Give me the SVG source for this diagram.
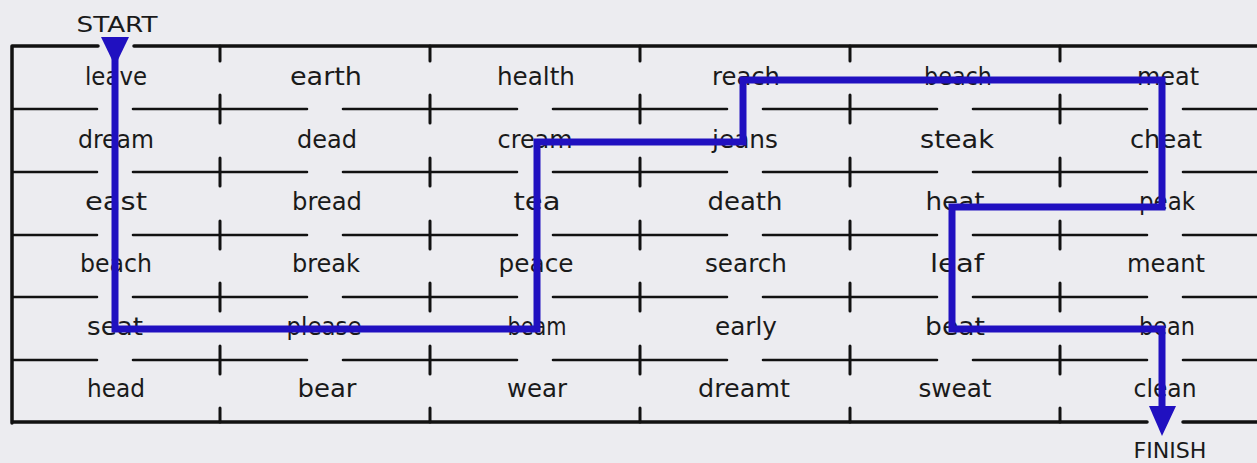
<svg xmlns="http://www.w3.org/2000/svg" width="1257" height="463" viewBox="0 0 1257 463">
<defs>
<style>
.bg{fill:#ececf0}
.frame{fill:none;stroke:#111;stroke-width:3.5;stroke-linecap:round}
.grid{fill:none;stroke:#111;stroke-width:2.6;stroke-linecap:round}
.tick{fill:none;stroke:#111;stroke-width:3;stroke-linecap:round}
.w{font-family:"DejaVu Sans",sans-serif;font-size:24px;fill:#1a1a1a;text-anchor:middle}
.cap{font-family:"DejaVu Sans",sans-serif;font-size:21px;fill:#1a1a1a;text-anchor:middle}
.path{fill:none;stroke:#2010c0;stroke-width:7;stroke-linejoin:miter}
.head{fill:#2010c0}
</style>
</defs>
<rect class="bg" x="0" y="0" width="1257" height="463"/>

<g id="grid">
<path class="frame" d="M12,46 V423 M12,46 H98 M134,46 H1257 M12,422 H1147 M1183,422 H1257"/>
<path class="grid" d="M13,109 H97 M133,109 H307 M343,109 H517 M553,109 H727 M763,109 H937 M973,109 H1147 M1183,109 H1257
M13,172 H97 M133,172 H307 M343,172 H517 M553,172 H727 M763,172 H937 M973,172 H1147 M1183,172 H1257
M13,235 H97 M133,235 H307 M343,235 H517 M553,235 H727 M763,235 H937 M973,235 H1147 M1183,235 H1257
M13,297 H97 M133,297 H307 M343,297 H517 M553,297 H727 M763,297 H937 M973,297 H1147 M1183,297 H1257
M13,360 H97 M133,360 H307 M343,360 H517 M553,360 H727 M763,360 H937 M973,360 H1147 M1183,360 H1257"/>
<path class="tick" d="M220,46 V61 M430,46 V61 M640,46 V61 M850,46 V61 M1060,46 V61
M220,95 V123 M430,95 V123 M640,95 V123 M850,95 V123 M1060,95 V123
M220,158 V186 M430,158 V186 M640,158 V186 M850,158 V186 M1060,158 V186
M220,221 V249 M430,221 V249 M640,221 V249 M850,221 V249 M1060,221 V249
M220,283 V311 M430,283 V311 M640,283 V311 M850,283 V311 M1060,283 V311
M220,346 V374 M430,346 V374 M640,346 V374 M850,346 V374 M1060,346 V374
M220,408 V422 M430,408 V422 M640,408 V422 M850,408 V422 M1060,408 V422"/>
</g>

<g id="start"><text class="cap" x="117" y="32" textLength="81" lengthAdjust="spacingAndGlyphs">START</text></g>
<g id="finish"><text class="cap" x="1170" y="458" textLength="73" lengthAdjust="spacingAndGlyphs">FINISH</text></g>

<g id="row1">
<g id="c-leave"><text class="w" x="116" y="85" textLength="62" lengthAdjust="spacingAndGlyphs">leave</text></g>
<g id="c-earth"><text class="w" x="326" y="85" textLength="72" lengthAdjust="spacingAndGlyphs">earth</text></g>
<g id="c-health"><text class="w" x="536" y="85" textLength="78" lengthAdjust="spacingAndGlyphs">health</text></g>
<g id="c-reach"><text class="w" x="746" y="85" textLength="68" lengthAdjust="spacingAndGlyphs">reach</text></g>
<g id="c-beach1"><text class="w" x="958" y="85" textLength="68" lengthAdjust="spacingAndGlyphs">beach</text></g>
<g id="c-meat"><text class="w" x="1168" y="85" textLength="62" lengthAdjust="spacingAndGlyphs">meat</text></g>
</g>
<g id="row2">
<g id="c-dream"><text class="w" x="116" y="148" textLength="76" lengthAdjust="spacingAndGlyphs">dream</text></g>
<g id="c-dead"><text class="w" x="327" y="148" textLength="60" lengthAdjust="spacingAndGlyphs">dead</text></g>
<g id="c-cream"><text class="w" x="535" y="148" textLength="75" lengthAdjust="spacingAndGlyphs">cream</text></g>
<g id="c-jeans"><text class="w" x="745" y="148" textLength="66" lengthAdjust="spacingAndGlyphs">jeans</text></g>
<g id="c-steak"><text class="w" x="957" y="148" textLength="74" lengthAdjust="spacingAndGlyphs">steak</text></g>
<g id="c-cheat"><text class="w" x="1166" y="148" textLength="72" lengthAdjust="spacingAndGlyphs">cheat</text></g>
</g>
<g id="row3">
<g id="c-east"><text class="w" x="116" y="210" textLength="62" lengthAdjust="spacingAndGlyphs">east</text></g>
<g id="c-bread"><text class="w" x="327" y="210" textLength="70" lengthAdjust="spacingAndGlyphs">bread</text></g>
<g id="c-tea"><text class="w" x="537" y="210" textLength="47" lengthAdjust="spacingAndGlyphs">tea</text></g>
<g id="c-death"><text class="w" x="745" y="210" textLength="75" lengthAdjust="spacingAndGlyphs">death</text></g>
<g id="c-heat"><text class="w" x="955" y="210" textLength="59" lengthAdjust="spacingAndGlyphs">heat</text></g>
<g id="c-peak"><text class="w" x="1167" y="210" textLength="56" lengthAdjust="spacingAndGlyphs">peak</text></g>
</g>
<g id="row4">
<g id="c-beach2"><text class="w" x="116" y="272" textLength="72" lengthAdjust="spacingAndGlyphs">beach</text></g>
<g id="c-break"><text class="w" x="326" y="272" textLength="68" lengthAdjust="spacingAndGlyphs">break</text></g>
<g id="c-peace"><text class="w" x="536" y="272" textLength="75" lengthAdjust="spacingAndGlyphs">peace</text></g>
<g id="c-search"><text class="w" x="746" y="272" textLength="82" lengthAdjust="spacingAndGlyphs">search</text></g>
<g id="c-leaf"><text class="w" x="957" y="272" textLength="54" lengthAdjust="spacingAndGlyphs">leaf</text></g>
<g id="c-meant"><text class="w" x="1166" y="272" textLength="78" lengthAdjust="spacingAndGlyphs">meant</text></g>
</g>
<g id="row5">
<g id="c-seat"><text class="w" x="115" y="335" textLength="56" lengthAdjust="spacingAndGlyphs">seat</text></g>
<g id="c-please"><text class="w" x="324" y="335" textLength="75" lengthAdjust="spacingAndGlyphs">please</text></g>
<g id="c-beam"><text class="w" x="537" y="335" textLength="59" lengthAdjust="spacingAndGlyphs">beam</text></g>
<g id="c-early"><text class="w" x="746" y="335" textLength="62" lengthAdjust="spacingAndGlyphs">early</text></g>
<g id="c-beat"><text class="w" x="955" y="335" textLength="60" lengthAdjust="spacingAndGlyphs">beat</text></g>
<g id="c-bean"><text class="w" x="1167" y="335" textLength="56" lengthAdjust="spacingAndGlyphs">bean</text></g>
</g>
<g id="row6">
<g id="c-head"><text class="w" x="116" y="397" textLength="58" lengthAdjust="spacingAndGlyphs">head</text></g>
<g id="c-bear"><text class="w" x="327" y="397" textLength="59" lengthAdjust="spacingAndGlyphs">bear</text></g>
<g id="c-wear"><text class="w" x="537" y="397" textLength="60" lengthAdjust="spacingAndGlyphs">wear</text></g>
<g id="c-dreamt"><text class="w" x="744" y="397" textLength="92" lengthAdjust="spacingAndGlyphs">dreamt</text></g>
<g id="c-sweat"><text class="w" x="955" y="397" textLength="73" lengthAdjust="spacingAndGlyphs">sweat</text></g>
<g id="c-clean"><text class="w" x="1165" y="397" textLength="63" lengthAdjust="spacingAndGlyphs">clean</text></g>
</g>

<g id="connectors">
<path class="path" d="M115,58 V329 H537 V142 H743 V80 H1162 V207 H952 V329 H1162 V410"/>
<polygon class="head" points="101,37 129,37 115,66"/>
<polygon class="head" points="1149,406 1176,406 1162,436"/>
</g>
</svg>
